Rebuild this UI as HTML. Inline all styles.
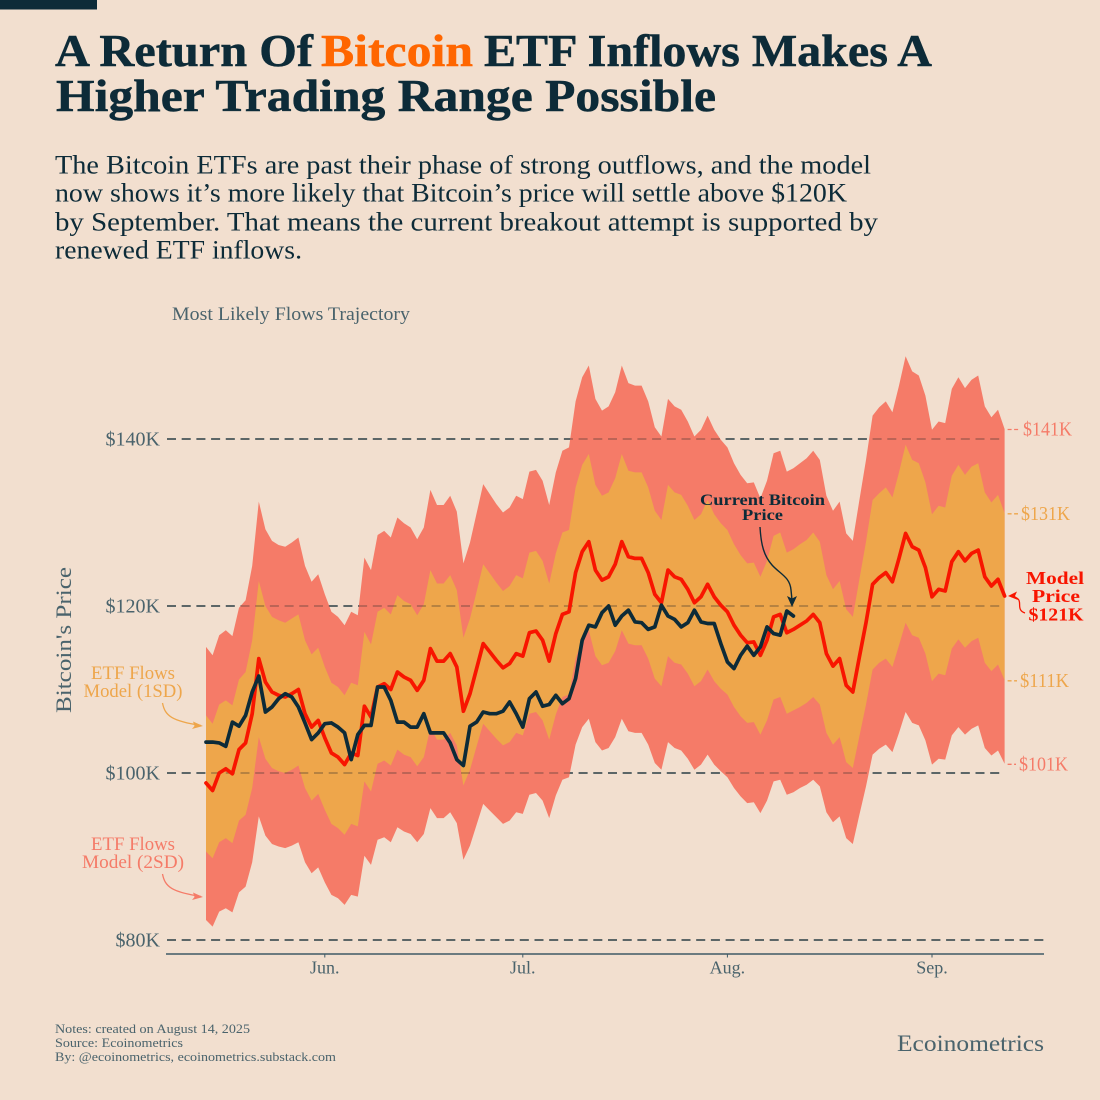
<!DOCTYPE html>
<html lang="en">
<head>
<meta charset="utf-8">
<title>A Return Of Bitcoin ETF Inflows Makes A Higher Trading Range Possible</title>
<style>
  html,body{margin:0;padding:0;background:#f2dfcf;}
  svg{display:block;}
  text{font-family:"Liberation Serif","DejaVu Serif",serif;}
</style>
</head>
<body>
<svg id="chart" xmlns="http://www.w3.org/2000/svg" width="1100" height="1100" viewBox="0 0 1100 1100">
  <rect x="0" y="0" width="1100" height="1100" fill="#f2dfcf"/>
  <rect x="0" y="0" width="97" height="9.5" fill="#0d2b38"/>

  <g font-weight="bold" font-size="45.5" fill="#0d2b38" stroke="#0d2b38" stroke-width="0.5">
    <text x="55" y="66" textLength="258" lengthAdjust="spacingAndGlyphs">A Return Of</text>
    <text x="321" y="66" textLength="152" lengthAdjust="spacingAndGlyphs" fill="#ff6600" stroke="#ff6600">Bitcoin</text>
    <text x="484" y="66" textLength="448" lengthAdjust="spacingAndGlyphs">ETF Inflows Makes A</text>
    <text x="56" y="111" textLength="660" lengthAdjust="spacingAndGlyphs">Higher Trading Range Possible</text>
  </g>

  <g font-size="26" fill="#0d2b38">
    <text x="55" y="173.7" textLength="816" lengthAdjust="spacingAndGlyphs">The Bitcoin ETFs are past their phase of strong outflows, and the model</text>
    <text x="55" y="201.7" textLength="792" lengthAdjust="spacingAndGlyphs">now shows it’s more likely that Bitcoin’s price will settle above $120K</text>
    <text x="55" y="230.5" textLength="823" lengthAdjust="spacingAndGlyphs">by September. That means the current breakout attempt is supported by</text>
    <text x="55" y="258.7" textLength="247" lengthAdjust="spacingAndGlyphs">renewed ETF inflows.</text>
  </g>

  <text x="172" y="320" font-size="19" fill="#4a636c" textLength="238" lengthAdjust="spacingAndGlyphs">Most Likely Flows Trajectory</text>

  <g id="gridUnder"></g>
  <g id="bands"></g>
  <g id="grid"></g>
  <g id="lines"></g>
  <g id="axes"></g>
  <g id="ends"></g>

  <text transform="translate(71,640) rotate(-90)" text-anchor="middle" font-size="22" fill="#4a636c" textLength="146" lengthAdjust="spacingAndGlyphs">Bitcoin's Price</text>

  <g fill="#eea64b" font-size="18.5" text-anchor="middle">
    <text x="133" y="679" textLength="84" lengthAdjust="spacingAndGlyphs">ETF Flows</text>
    <text x="133" y="697" textLength="99" lengthAdjust="spacingAndGlyphs">Model (1SD)</text>
    <path d="M162.5 703 C165 716 172 721 201 725.5" fill="none" stroke="#eea64b" stroke-width="1.3"/>
    <path d="M203 726 L193 721.5 L194.5 726 L192 729 Z" fill="#eea64b"/>
  </g>
  <g fill="#f57b68" font-size="18.5" text-anchor="middle">
    <text x="133" y="850" textLength="84" lengthAdjust="spacingAndGlyphs">ETF Flows</text>
    <text x="133" y="868" textLength="102" lengthAdjust="spacingAndGlyphs">Model (2SD)</text>
    <path d="M162.5 874 C165 887 172 892 201 896.5" fill="none" stroke="#f57b68" stroke-width="1.3"/>
    <path d="M203 897 L193 892.5 L194.5 897 L192 900 Z" fill="#f57b68"/>
  </g>

  <g fill="#0d2b38" font-weight="bold" font-size="15.5" text-anchor="middle">
    <text x="762.5" y="505" textLength="125" lengthAdjust="spacingAndGlyphs">Current Bitcoin</text>
    <text x="762.5" y="520" textLength="41" lengthAdjust="spacingAndGlyphs">Price</text>
    <path d="M760 527 C761 545 764 556 772 565 C780 574 790 577 791 590 L792 600" fill="none" stroke="#0d2b38" stroke-width="1.4"/>
    <path d="M792 607 L787 596 L792 598.5 L797 596 Z" fill="#0d2b38"/>
  </g>

  <g fill="#f81500" font-weight="bold" font-size="18" text-anchor="middle">
    <text x="1055" y="584" textLength="58" lengthAdjust="spacingAndGlyphs">Model</text>
    <text x="1056" y="602" textLength="48" lengthAdjust="spacingAndGlyphs">Price</text>
    <text x="1056" y="620.5" textLength="55" lengthAdjust="spacingAndGlyphs">$121K</text>
    <path d="M1025 613 C1016 610 1022 602 1018 599 C1016 597 1014 596.5 1011 596.5" fill="none" stroke="#f81500" stroke-width="1.3"/>
    <path d="M1008 596 L1017 591.5 L1015 596 L1018 600 Z" fill="#f81500"/>
  </g>

  <g font-size="12.6" fill="#4a636c">
    <text x="55" y="1033" textLength="195" lengthAdjust="spacingAndGlyphs">Notes: created on August 14, 2025</text>
    <text x="55" y="1047" textLength="128" lengthAdjust="spacingAndGlyphs">Source: Ecoinometrics</text>
    <text x="55" y="1061" textLength="281" lengthAdjust="spacingAndGlyphs">By: @ecoinometrics, ecoinometrics.substack.com</text>
  </g>
  <text x="897" y="1051" font-size="23" fill="#4a636c" textLength="147" lengthAdjust="spacingAndGlyphs">Ecoinometrics</text>
</svg>

<script>
// Day index 0 = May 14, one value per day.
const monthLabels = ["Jun.", "Jul.", "Aug.", "Sep."];
const monthDays = [18, 48, 79, 110];
const gridValues = [140, 120, 100, 80];
const gridLabels = ["$140K", "$120K", "$100K", "$80K"];
const endLabels2sd = ["$141K", "$101K"];
const endLabels1sd = ["$131K", "$111K"];

const modelPrice = [
  98.8,97.9,100.0,100.5,99.9,102.8,103.6,107.1,113.7,110.9,
  109.7,109.3,109.1,109.5,110.0,107.1,105.5,106.3,104.2,102.4,
  101.9,101.0,102.4,102.1,108.0,106.7,110.3,110.7,110.0,112.1,
  111.5,111.1,109.9,111.1,114.9,113.4,113.4,114.3,112.7,107.4,
  109.5,112.5,115.5,114.5,113.5,112.6,113.1,114.3,114.0,116.8,
  117.0,115.9,113.4,116.7,119.0,119.3,124.0,126.5,127.7,124.3,
  123.1,123.5,125.0,127.7,125.9,125.7,125.7,124.0,121.4,120.4,
  124.3,123.5,123.2,122.0,120.4,121.1,122.6,121.1,120.1,119.3,
  117.7,116.5,115.6,115.7,114.1,115.9,118.7,119.0,116.8,117.2,
  117.7,118.2,119.0,118.0,114.3,112.8,113.7,110.5,109.7,113.9,
  118.0,122.6,123.4,124.0,122.9,125.7,128.7,127.1,126.7,124.6,
  121.1,122.0,121.8,125.3,126.5,125.4,126.3,126.7,123.5,122.4,
  123.2,121.2
];

const bitcoinPrice = [
  103.7,103.7,103.6,103.2,106.1,105.6,106.9,109.7,111.6,107.3,
  107.9,108.9,109.5,109.1,107.9,106.0,104.0,104.8,105.9,106.0,
  105.5,104.8,101.6,104.6,105.7,105.7,110.3,110.3,108.7,106.1,
  106.1,105.5,105.5,107.1,104.8,104.8,104.8,103.6,101.6,100.9,
  105.6,106.1,107.3,107.1,107.1,107.4,108.5,107.1,105.5,108.9,
  109.7,108.0,108.2,109.3,108.3,108.9,111.3,115.9,117.7,117.5,
  119.2,120.0,117.7,118.8,119.5,118.1,118.0,117.2,117.5,120.1,
  118.8,118.4,117.5,118.0,119.5,118.1,117.9,117.9,115.5,113.3,
  112.5,114.1,115.2,114.1,115.1,117.5,116.7,116.5,119.4,118.8
];

const upper2sd = [
  115.1,114.1,116.5,117.1,116.4,119.8,120.7,124.8,132.5,129.2,
  127.8,127.3,127.1,127.6,128.2,124.8,122.9,123.8,121.4,119.3,
  118.7,117.7,119.3,118.9,125.8,124.3,128.5,129.0,128.2,130.6,
  129.9,129.4,128.0,129.4,133.9,132.1,132.1,133.2,131.3,125.1,
  127.6,131.1,134.6,133.4,132.2,131.2,131.8,133.2,132.8,136.1,
  136.3,135.0,132.1,136.0,138.6,139.0,144.5,147.4,148.8,144.8,
  143.4,143.9,145.6,148.8,146.7,146.4,146.4,144.5,141.4,140.3,
  144.8,143.9,143.5,142.1,140.3,141.1,142.8,141.1,139.9,139.0,
  137.1,135.7,134.7,134.8,132.9,135.0,138.3,138.6,136.1,136.5,
  137.1,137.7,138.6,137.5,133.2,131.4,132.5,128.7,127.8,132.7,
  137.5,142.8,143.8,144.5,143.2,146.4,149.9,148.1,147.6,145.2,
  141.1,142.1,141.9,146.0,147.4,146.1,147.1,147.6,143.9,142.6,
  143.5,141.2
];

const upper1sd = [
  106.9,105.9,108.2,108.7,108.1,111.2,112.1,115.9,123.0,120.0,
  118.7,118.3,118.0,118.5,119.0,115.9,114.2,115.0,112.7,110.8,
  110.3,109.3,110.8,110.5,116.9,115.4,119.3,119.8,119.0,121.3,
  120.6,120.2,118.9,120.2,124.3,122.7,122.7,123.7,121.9,116.2,
  118.5,121.7,125.0,123.9,122.8,121.8,122.4,123.7,123.3,126.4,
  126.6,125.4,122.7,126.3,128.8,129.1,134.2,136.9,138.2,134.5,
  133.2,133.6,135.3,138.2,136.2,136.0,136.0,134.2,131.4,130.3,
  134.5,133.6,133.3,132.0,130.3,131.0,132.7,131.0,129.9,129.1,
  127.4,126.1,125.1,125.2,123.5,125.4,128.4,128.8,126.4,126.8,
  127.4,127.9,128.8,127.7,123.7,122.0,123.0,119.6,118.7,123.2,
  127.7,132.7,133.5,134.2,133.0,136.0,139.3,137.5,137.1,134.8,
  131.0,132.0,131.8,135.6,136.9,135.7,136.7,137.1,133.6,132.4,
  133.3,131.1
];

const lower1sd = [
  90.6,89.8,91.7,92.2,91.6,94.3,95.0,98.2,104.3,101.7,
  100.6,100.2,100.0,100.4,100.9,98.2,96.7,97.5,95.6,93.9,
  93.4,92.6,93.9,93.6,99.0,97.8,101.1,101.5,100.9,102.8,
  102.2,101.9,100.8,101.9,105.4,104.0,104.0,104.8,103.3,98.5,
  100.4,103.2,105.9,105.0,104.1,103.3,103.7,104.8,104.5,107.1,
  107.3,106.3,104.0,107.0,109.1,109.4,113.7,116.0,117.1,114.0,
  112.9,113.2,114.6,117.1,115.5,115.3,115.3,113.7,111.3,110.4,
  114.0,113.2,113.0,111.9,110.4,111.0,112.4,111.0,110.1,109.4,
  107.9,106.8,106.0,106.1,104.6,106.3,108.8,109.1,107.1,107.5,
  107.9,108.4,109.1,108.2,104.8,103.4,104.3,101.3,100.6,104.4,
  108.2,112.4,113.2,113.7,112.7,115.3,118.0,116.5,116.2,114.3,
  111.0,111.9,111.7,114.9,116.0,115.0,115.8,116.2,113.2,112.2,
  113.0,111.1
];

const lower2sd = [
  82.4,81.6,83.4,83.8,83.3,85.7,86.4,89.3,94.8,92.5,
  91.5,91.2,91.0,91.3,91.7,89.3,88.0,88.7,86.9,85.4,
  85.0,84.2,85.4,85.2,90.1,89.0,92.0,92.3,91.7,93.5,
  93.0,92.7,91.7,92.7,95.8,94.6,94.6,95.3,94.0,89.6,
  91.3,93.8,96.3,95.5,94.7,93.9,94.3,95.3,95.1,97.4,
  97.6,96.7,94.6,97.3,99.2,99.5,103.4,105.5,106.5,103.7,
  102.7,103.0,104.3,106.5,105.0,104.8,104.8,103.4,101.2,100.4,
  103.7,103.0,102.7,101.7,100.4,101.0,102.2,101.0,100.2,99.5,
  98.2,97.2,96.4,96.5,95.2,96.7,99.0,99.2,97.4,97.7,
  98.2,98.6,99.2,98.4,95.3,94.1,94.8,92.2,91.5,95.0,
  98.4,102.2,102.9,103.4,102.5,104.8,107.3,106.0,105.7,103.9,
  101.0,101.7,101.6,104.5,105.5,104.6,105.3,105.7,103.0,102.1,
  102.7,101.1
];

const NS = "http://www.w3.org/2000/svg";
function xScale(day) { return 206 + day * 6.6; }
function yScale(k) { return 773 - (k - 100) * 8.35; }
function make(tag, attrs, parent, txt) {
  const el = document.createElementNS(NS, tag);
  for (const k in attrs) el.setAttribute(k, attrs[k]);
  if (txt !== undefined) el.textContent = txt;
  parent.appendChild(el);
  return el;
}
function bandPoints(up, low) {
  const top = up.map((v, i) => xScale(i).toFixed(1) + "," + yScale(v).toFixed(1));
  const bottom = low.map((v, i) => xScale(i).toFixed(1) + "," + yScale(v).toFixed(1)).reverse();
  return top.concat(bottom).join(" ");
}
function linePoints(vals) {
  return vals.map((v, i) => xScale(i).toFixed(1) + "," + yScale(v).toFixed(1)).join(" ");
}

const gridUnderG = document.getElementById("gridUnder");
const bandsG = document.getElementById("bands");
const gridG = document.getElementById("grid");
const linesG = document.getElementById("lines");
const axesG = document.getElementById("axes");
const endsG = document.getElementById("ends");

const band2 = make("polygon", { points: bandPoints(upper2sd, lower2sd), fill: "#f57b68" }, bandsG);


const band1 = make("polygon", { points: bandPoints(upper1sd, lower1sd), fill: "#eea64b" }, bandsG);



const lastX = xScale(modelPrice.length - 1);
gridValues.forEach((v, i) => {
  const gridEnd = v === 80 ? 1044 : lastX;
  const under = make("line", {
    x1: 167, x2: gridEnd, y1: yScale(v), y2: yScale(v),
    stroke: "#3d5761", "stroke-width": 1.4, "stroke-dasharray": "9 5.7"
  }, gridUnderG);
  
  
  const over = make("line", {
    x1: 167, x2: gridEnd, y1: yScale(v), y2: yScale(v),
    stroke: "#2c2a2a", "stroke-opacity": "0.38", "stroke-width": 1.4, "stroke-dasharray": "9 5.7"
  }, gridG);
  
  
  const lab = make("text", {
    x: 160, y: yScale(v) + 6.5, "text-anchor": "end", "font-size": 20, fill: "#4a636c"
  }, axesG, gridLabels[i]);
  
  
});

const axisLine = make("line", { x1: 166, x2: 1044, y1: 954, y2: 954, stroke: "#3f5a66", "stroke-width": 1.4 }, axesG);


monthLabels.forEach((m, i) => {
  const x = xScale(monthDays[i]);
  const tick = make("line", { x1: x, x2: x, y1: 954, y2: 957.5, stroke: "#3f5a66", "stroke-width": 1 }, axesG);
  
  
  const lab = make("text", { x: x, y: 973.5, "text-anchor": "middle", "font-size": 18, fill: "#4a636c" }, axesG, m);
  
  
});

const model = make("polyline", {
  points: linePoints(modelPrice), fill: "none", stroke: "#f81500",
  "stroke-width": 3.7, "stroke-linejoin": "round", "stroke-linecap": "round"
}, linesG);


const btc = make("polyline", {
  points: linePoints(bitcoinPrice), fill: "none", stroke: "#0d2b38",
  "stroke-width": 3.7, "stroke-linejoin": "round", "stroke-linecap": "round"
}, linesG);



function endLabel(series, text, color, textX) {
  const v = series[series.length - 1];
  const y = yScale(v);
  const dash = make("line", {
    x1: lastX + 3, x2: textX - 3, y1: y + 0.5, y2: y + 0.5,
    stroke: color, "stroke-width": 1.3, "stroke-dasharray": "4 2.5"
  }, endsG);
  
  
  const lab = make("text", { x: textX, y: y + 6.5, "font-size": 19.5, fill: color, textLength: 49, lengthAdjust: "spacingAndGlyphs" }, endsG, text);
  
  
}
endLabel(upper2sd, endLabels2sd[0], "#f57b68", 1023);
endLabel(lower2sd, endLabels2sd[1], "#f57b68", 1019);
endLabel(upper1sd, endLabels1sd[0], "#eea64b", 1021);
endLabel(lower1sd, endLabels1sd[1], "#eea64b", 1020);
</script>
</body>
</html>
